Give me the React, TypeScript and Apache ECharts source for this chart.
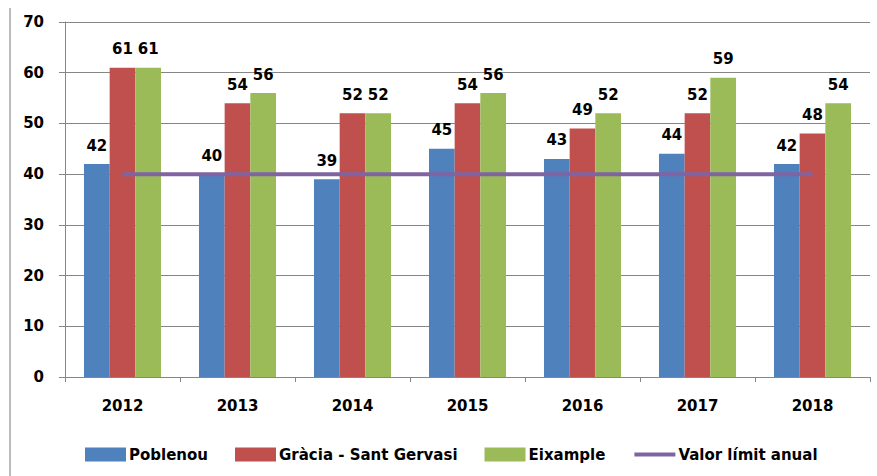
import React, { useEffect, useRef } from "react";
import * as echarts from "echarts";

const years = ["2012", "2013", "2014", "2015", "2016", "2017", "2018"];
const poblenou = [42, 40, 39, 45, 43, 44, 42];
const gracia = [61, 54, 52, 54, 49, 52, 48];
const eixample = [61, 56, 52, 56, 52, 59, 54];
const limit = [40, 40, 40, 40, 40, 40, 40];
const seriesNames = ["Poblenou", "Gràcia - Sant Gervasi", "Eixample", "Valor límit anual"];

const FONT = "DejaVu Sans";

export default function App() {
  const ref = useRef<HTMLDivElement>(null);
  useEffect(() => {
    if (!ref.current) return;
    const chart = echarts.init(ref.current, undefined, { renderer: "svg" });
    const label = {
      show: true,
      position: "top" as const,
      distance: 11,
      color: "#000",
      fontFamily: FONT,
      fontWeight: "bold" as const,
      fontSize: 15,
    };
    chart.setOption({
      animation: false,
      backgroundColor: "#fff",
      grid: { left: 65, right: 7, top: 22, bottom: 99, containLabel: false },
      xAxis: {
        type: "category",
        data: years,
        boundaryGap: true,
        axisLine: { lineStyle: { color: "#868686", width: 1 } },
        axisTick: { show: true, length: 5, lineStyle: { color: "#868686" } },
        axisLabel: {
          color: "#000",
          fontFamily: FONT,
          fontWeight: "bold",
          fontSize: 15,
          margin: 21,
        },
      },
      yAxis: {
        type: "value",
        min: 0,
        max: 70,
        interval: 10,
        axisLine: { show: true, lineStyle: { color: "#868686", width: 1 } },
        axisTick: { show: true, length: 6, lineStyle: { color: "#868686" } },
        splitLine: { show: true, lineStyle: { color: "#868686", width: 1 } },
        axisLabel: {
          color: "#000",
          fontFamily: FONT,
          fontWeight: "bold",
          fontSize: 15,
          margin: 21,
        },
      },
      legend: {
        left: 80,
        top: 442,
        itemWidth: 41,
        itemHeight: 14,
        itemGap: 27,
        textStyle: { color: "#000", fontFamily: FONT, fontWeight: "bold", fontSize: 15, padding: [0, 0, 0, -2] },
        data: [
          { name: seriesNames[0], icon: "rect" },
          { name: seriesNames[1], icon: "rect" },
          { name: seriesNames[2], icon: "rect" },
          { name: seriesNames[3], itemStyle: { opacity: 0 }, lineStyle: { width: 4, color: "#8064A2" } },
        ],
      },
      graphic: [
        {
          type: "line",
          shape: { x1: 10, y1: 8, x2: 10, y2: 476 },
          style: { stroke: "#a6a6a6", lineWidth: 1.5 },
        },
      ],
      series: [
        {
          name: seriesNames[0],
          type: "bar",
          data: poblenou,
          itemStyle: { color: "#4F81BD" },
          barGap: "0%",
          barCategoryGap: "33%",
          label,
        },
        {
          name: seriesNames[1],
          type: "bar",
          data: gracia,
          itemStyle: { color: "#C0504D" },
          label,
        },
        {
          name: seriesNames[2],
          type: "bar",
          data: eixample,
          itemStyle: { color: "#9BBB59" },
          label,
        },
        {
          name: seriesNames[3],
          type: "line",
          data: limit,
          symbol: "none",
          showSymbol: false,
          itemStyle: { color: "#8064A2" },
          lineStyle: { color: "#8064A2", width: 4 },
          z: 5,
        },
      ],
    });
    return () => chart.dispose();
  }, []);
  return <div ref={ref} style={{ width: 877, height: 476, position: "absolute", left: 0, top: 0 }} />;
}
